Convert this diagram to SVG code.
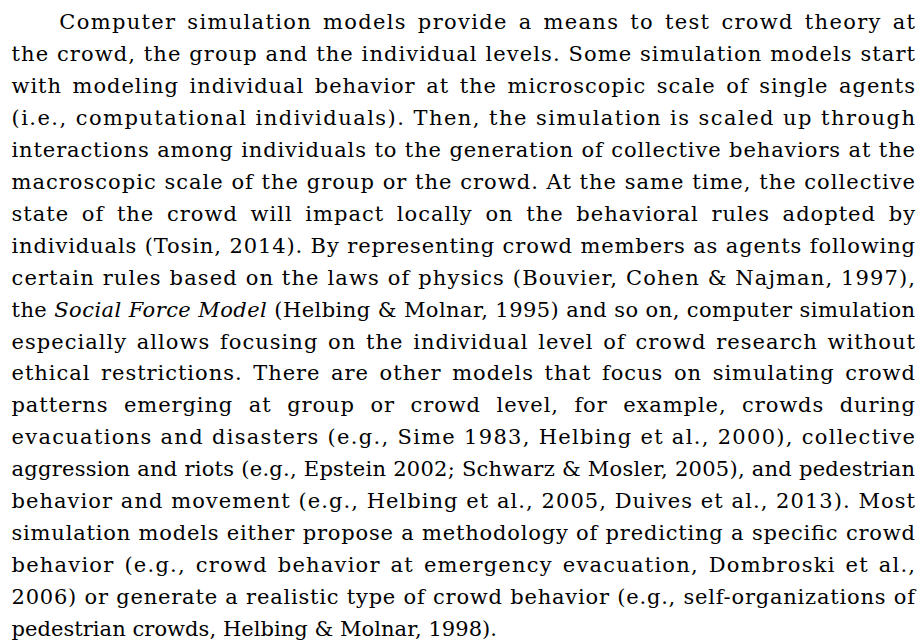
<svg xmlns="http://www.w3.org/2000/svg" width="924" height="644" viewBox="0 0 924 644">
<style>
text { font-family: "DejaVu Serif", "Liberation Serif", serif; font-size: 21px; fill: #000; }
.i { font-style: italic; }
</style>
<rect width="924" height="644" fill="#fff"/>
<g id="paragraph">
<text x="59.3" y="29.3" textLength="855.7" word-spacing="3">Computer simulation models provide a means to test crowd theory at</text>
<text x="11.5" y="61.2" textLength="903.5">the crowd, the group and the individual levels. Some simulation models start</text>
<text x="11.5" y="93.1" textLength="903.5" word-spacing="3">with modeling individual behavior at the microscopic scale of single agents</text>
<text x="11.5" y="125.1" textLength="903.5">(i.e., computational individuals). Then, the simulation is scaled up through</text>
<text x="11.5" y="157.0" textLength="903.5">interactions among individuals to the generation of collective behaviors at the</text>
<text x="11.5" y="188.9" textLength="903.5">macroscopic scale of the group or the crowd. At the same time, the collective</text>
<text x="11.5" y="220.8" textLength="903.5" word-spacing="5">state of the crowd will impact locally on the behavioral rules adopted by</text>
<text x="11.5" y="252.7" textLength="903.5">individuals (Tosin, 2014). By representing crowd members as agents following</text>
<text x="11.5" y="284.7" textLength="903.5">certain rules based on the laws of physics (Bouvier, Cohen &amp; Najman, 1997),</text>
<text x="11.5" y="316.6" textLength="903.5">the <tspan class="i">Social Force Model</tspan> (Helbing &amp; Molnar, 1995) and so on, computer simulation</text>
<text x="11.5" y="348.5" textLength="903.5" word-spacing="2">especially allows focusing on the individual level of crowd research without</text>
<text x="11.5" y="380.4" textLength="903.5" word-spacing="3">ethical restrictions. There are other models that focus on simulating crowd</text>
<text x="11.5" y="412.3" textLength="903.5" word-spacing="8">patterns emerging at group or crowd level, for example, crowds during</text>
<text x="11.5" y="444.3" textLength="903.5">evacuations and disasters (e.g., Sime 1983, Helbing et al., 2000), collective</text>
<text x="11.5" y="476.2" textLength="903.5">aggression and riots (e.g., Epstein 2002; Schwarz &amp; Mosler, 2005), and pedestrian</text>
<text x="11.5" y="508.1" textLength="903.5">behavior and movement (e.g., Helbing et al., 2005, Duives et al., 2013). Most</text>
<text x="11.5" y="540.0" textLength="903.5">simulation models either propose a methodology of predicting a specific crowd</text>
<text x="11.5" y="571.9" textLength="903.5" word-spacing="2">behavior (e.g., crowd behavior at emergency evacuation, Dombroski et al.,</text>
<text x="11.5" y="603.8" textLength="903.5">2006) or generate a realistic type of crowd behavior (e.g., self-organizations of</text>
<text x="11.5" y="635.7" textLength="485.5">pedestrian crowds, Helbing &amp; Molnar, 1998).</text>
</g>
</svg>
